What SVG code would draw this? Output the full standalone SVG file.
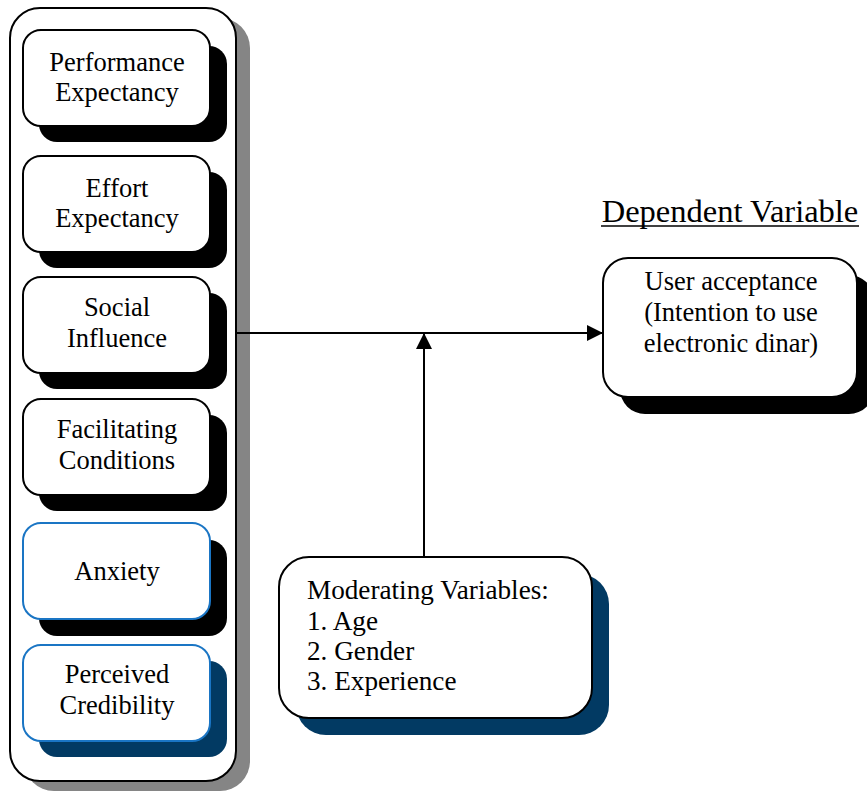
<svg xmlns="http://www.w3.org/2000/svg" width="867" height="792" viewBox="0 0 867 792">
<defs>
<style>
.t{font-family:"Liberation Serif","Times New Roman",serif;font-size:26.5px;fill:#000}
.c{text-anchor:middle}
.box{fill:#fff;stroke:#000;stroke-width:2}
.bbox{fill:#fff;stroke:#1a75c4;stroke-width:2}
.sh{fill:#000}
.bsh{fill:#023a63}
.ln{stroke:#000;stroke-width:2;fill:none}
</style>
<marker id="ah" viewBox="0 0 16 16" refX="16" refY="8" markerWidth="16" markerHeight="16" markerUnits="userSpaceOnUse" orient="auto">
<path d="M0,0 L16,8 L0,16 Z" fill="#000"/>
</marker>
</defs>
<rect width="867" height="792" fill="#fff"/>
<g id="container">
<rect x="24" y="18" width="226" height="773" rx="30" fill="#858585"/>
<rect x="10" y="8" width="226" height="773" rx="30" class="box"/>
</g>
<g id="performance">
<rect x="39" y="46" width="188" height="96" rx="18" class="sh"/>
<rect x="23" y="30" width="187" height="96" rx="18" class="box"/>
<text class="t c" x="117" y="71">Performance</text>
<text class="t c" x="117" y="101">Expectancy</text>
</g>
<g id="effort">
<rect x="39" y="172" width="188" height="96" rx="18" class="sh"/>
<rect x="23" y="156" width="187" height="96" rx="18" class="box"/>
<text class="t c" x="117" y="197">Effort</text>
<text class="t c" x="117" y="227">Expectancy</text>
</g>
<g id="social">
<rect x="39" y="293" width="188" height="96" rx="18" class="sh"/>
<rect x="23" y="277" width="187" height="96" rx="18" class="box"/>
<text class="t c" x="117" y="316">Social</text>
<text class="t c" x="117" y="347">Influence</text>
</g>
<g id="facilitating">
<rect x="39" y="415" width="188" height="96" rx="18" class="sh"/>
<rect x="23" y="399" width="187" height="96" rx="18" class="box"/>
<text class="t c" x="117" y="438">Facilitating</text>
<text class="t c" x="117" y="469">Conditions</text>
</g>
<g id="anxiety">
<rect x="39" y="540" width="188" height="96" rx="18" class="sh"/>
<rect x="23" y="523" width="187" height="96" rx="18" class="bbox"/>
<text class="t c" x="117" y="580">Anxiety</text>
</g>
<g id="credibility">
<rect x="39" y="661" width="188" height="96" rx="18" class="bsh"/>
<rect x="23" y="645" width="187" height="96" rx="18" class="bbox"/>
<text class="t c" x="117" y="683">Perceived</text>
<text class="t c" x="117" y="714">Credibility</text>
</g>
<g id="dependent-label">
<text class="t c" x="730" y="222" style="font-size:32.5px">Dependent Variable</text>
<line x1="601" y1="226" x2="859" y2="226" stroke="#000" stroke-width="1.5"/>
</g>
<g id="user-acceptance">
<rect x="620" y="275" width="254" height="139" rx="25" class="sh"/>
<rect x="603" y="258" width="254" height="139" rx="25" class="box"/>
<text class="t c" x="731" y="290">User acceptance</text>
<text class="t c" x="731" y="321">(Intention to use</text>
<text class="t c" x="731" y="352">electronic dinar)</text>
</g>
<g id="moderating">
<rect x="296" y="574" width="313" height="161" rx="30" class="bsh"/>
<rect x="279" y="557" width="313" height="161" rx="30" class="box"/>
<text class="t" x="307" y="599" style="font-size:27.2px">Moderating Variables:</text>
<text class="t" x="307" y="630" style="font-size:27.2px">1. Age</text>
<text class="t" x="307" y="660" style="font-size:27.2px">2. Gender</text>
<text class="t" x="307" y="690" style="font-size:27.2px">3. Experience</text>
</g>
<g id="connectors">
<line x1="236" y1="333" x2="603" y2="333" class="ln" marker-end="url(#ah)"/>
<line x1="424" y1="557" x2="424" y2="333" class="ln" marker-end="url(#ah)"/>
</g>
</svg>
